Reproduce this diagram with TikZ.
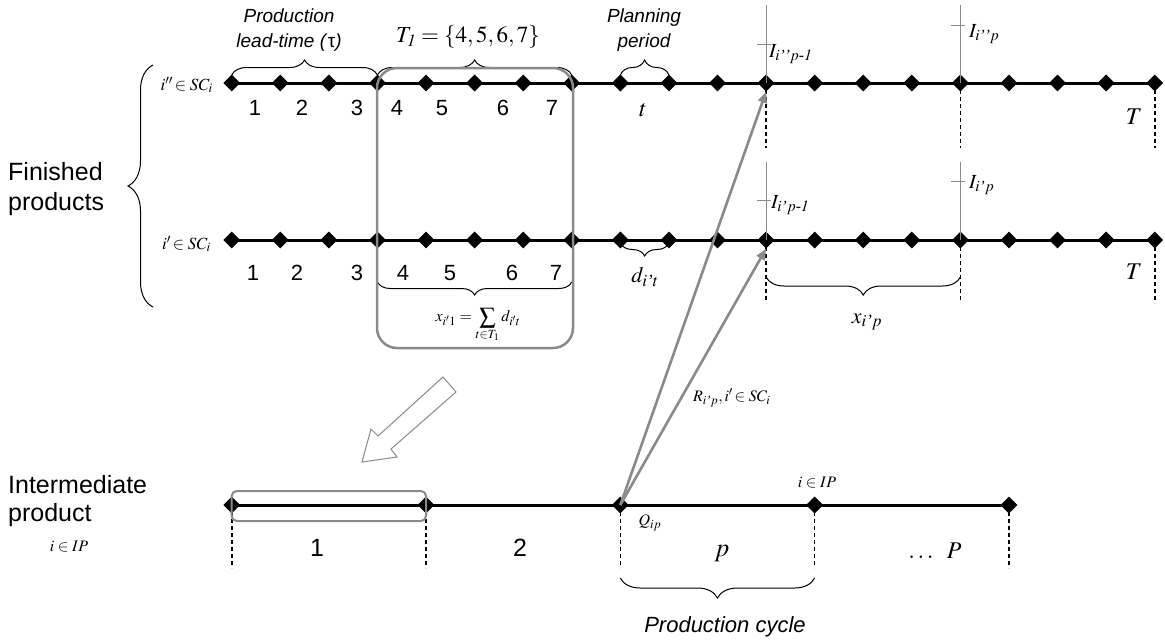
\documentclass[tikz,border=0pt]{standalone}
\usepackage{amsmath}
\usepackage{mathptmx}
\usepackage[no-math]{fontspec}
\setmainfont{Liberation Sans}
\newfontfamily\tmsfont{Liberation Serif}
\usepackage{tikz}
\usetikzlibrary{arrows.meta, shapes.geometric, calc, decorations.pathreplacing}
\definecolor{linkgray}{HTML}{8A8A8A}
%% larger subscripts, as in the equation editor
\DeclareMathSizes{16}{16}{12.5}{10}
\DeclareMathSizes{17}{17}{13}{10}
\DeclareMathSizes{20}{20}{15.5}{12}
\DeclareMathSizes{22}{22}{17}{13}
\DeclareMathSizes{23}{23}{17}{13}
\DeclareMathSizes{24}{24}{18}{14}
\DeclareMathSizes{26}{26}{19}{15}
\newcommand{\ap}{\text{\tmsfont\itshape ’}}
\newcommand{\hy}{\text{\tmsfont\itshape -}}

\tikzset{
  dot/.style={diamond, fill=black, inner sep=0pt, minimum size=17pt},
  timeline/.style={line width=3pt},
  drop/.style={line width=1.6pt, dash pattern=on 4pt off 3pt},
  invline/.style={linkgray, line width=1pt},
  feed/.style={linkgray, line width=2.6pt, -{Triangle[length=11pt,width=9pt]}},
  graybox/.style={linkgray, line width=2.5pt},
  hollow/.style={linkgray, line width=1pt, line join=miter},
  brc/.style 2 args={decorate, line width=1pt,
                     decoration={brace, amplitude=#1, raise=#2}},
  num/.style={font=\fontsize{22}{24}\selectfont, inner sep=0pt},
  lbl/.style={font=\fontsize{25}{30}\selectfont, align=left, inner sep=0pt},
  itl/.style={font=\fontsize{19}{25}\selectfont\itshape, align=center, inner sep=0pt},
  mth/.style={font=\fontsize{22}{24}\selectfont, inner sep=0pt},
  sm/.style={font=\fontsize{16}{18}\selectfont, inner sep=0pt}
}

\begin{document}
\begin{tikzpicture}[x=1pt, y=-1pt]
  \useasboundingbox (0,0) rectangle (1165,641);

  %% Finished products: two period timelines
  \foreach \k in {0,...,19} {
    \node[dot] (fa\k) at ({231.7+48.58*\k}, 83) {};
    \node[dot] (fb\k) at ({231.7+48.58*\k}, 240) {};
  }
  \draw[timeline] (fa0.center) -- (fa19.center);
  \draw[timeline] (fb0.center) -- (fb19.center);

  %% period numbers
  \foreach \n/\x in {1/255, 2/302, 3/357, 4/397, 5/442, 6/503, 7/552}
    \node[num] (da\n) at (\x, 108) {\n};
  \foreach \n/\x in {1/253, 2/297, 3/357, 4/403, 5/450, 6/512, 7/556}
    \node[num] (db\n) at (\x, 273) {\n};

  \node[sm, font=\fontsize{17}{19}\selectfont, anchor=east] (scA) at (213, 85)
    {$i''\!\in SC_i$};
  \node[sm, font=\fontsize{17}{19}\selectfont, anchor=east] (scB) at (211, 244)
    {$i'\!\in SC_i$};
  \node[lbl, anchor=west] (fin) at (8, 189) {Finished\\products};
  \draw[brc={25pt}{0pt}] (153,307) -- (153,65);

  %% braces on the upper line
  \draw[brc={15pt}{8pt}] (fa0.center) -- (fa3.center);
  \draw[brc={15pt}{8pt}] (fa3.center) -- (fa7.center);
  \draw[brc={15pt}{8pt}] (fa8.center) -- (fa9.center);
  \node[itl] (lead) at (289, 30) {Production\\lead-time (\textup{τ})};
  \node[mth, font=\fontsize{23}{25}\selectfont] (Tone) at (468, 37)
    {$T_{\mathit{1}} = \{4,5,6,7\}$};
  \node[itl] (plan) at (644, 30) {Planning\\period};
  \node[mth, font=\fontsize{24}{26}\selectfont] (tt) at (643, 110) {$t$};
  \node[mth, font=\fontsize{24}{26}\selectfont] (Ta) at (1134, 117) {$T$};

  %% braces on the lower line
  \draw[brc={13pt}{3pt}] (fb9.center) -- (fb8.center);
  \draw[brc={13pt}{42pt}] (fb7.center) -- (fb3.center);
  \draw[brc={18pt}{37pt}] (fb15.center) -- (fb11.center);
  \node[mth] (dit) at (645, 277) {$d_{i\ap t}$};
  \node[mth, font=\fontsize{16}{18}\selectfont] (xsum) at (478, 325)
    {$\displaystyle x_{i'1} = \sum_{t\in T_1} d_{i't}$};
  \node[mth] (xip) at (867, 322) {$x_{i\ap p}$};
  \node[mth, font=\fontsize{24}{26}\selectfont] (Tb) at (1134, 272) {$T$};

  %% cycle boundaries
  \foreach \k in {11,15,19} {
    \draw[drop] (fa\k.center) -- ++(0,65);
    \draw[drop] (fb\k.center) -- ++(0,63);
  }

  %% inventory levels
  \foreach \k/\h in {11/39, 15/58} {
    \draw[invline] (fa\k.center) -- ++(0,-78);
    \draw[invline] ($(fa\k)+(-9,-\h)$) -- ++(14,0);
  }
  \foreach \k/\h in {11/40, 15/59} {
    \draw[invline] (fb\k.center) -- ++(0,-78);
    \draw[invline] ($(fb\k)+(-9,-\h)$) -- ++(14,0);
  }
  \node[mth, font=\fontsize{20}{22}\selectfont, anchor=base west] (Ia) at (769, 57)
    {$I_{i\ap\ap p\hy\mathit{1}}$};
  \node[mth, font=\fontsize{20}{22}\selectfont, anchor=base west] (Ib) at (969, 37)
    {$I_{i\ap\ap p}$};
  \node[mth, font=\fontsize{20}{22}\selectfont, anchor=base west] (Ic) at (771, 208)
    {$I_{i\ap p\hy\mathit{1}}$};
  \node[mth, font=\fontsize{20}{22}\selectfont, anchor=base west] (Id) at (969, 188)
    {$I_{i\ap p}$};

  %% aggregation box
  \draw[graybox, rounded corners=20pt] (377,68) rectangle (573,348);

  %% Intermediate product line
  \foreach \j in {0,...,4}
    \node[dot] (ip\j) at ({231.7+194.3*\j}, 505) {};
  \draw[timeline] (ip0.center) -- (ip4.center);
  \foreach \j in {0,...,4}
    \draw[drop] (ip\j.center) -- ++(0,63);
  \draw[graybox, line width=2pt, rounded corners=5pt]
    ($(ip0)+(0,-14)$) rectangle ($(ip1)+(0,16)$);

  \node[lbl, font=\fontsize{25}{28}\selectfont, anchor=west] (inter) at (8, 501)
    {Intermediate\\product};
  \node[sm] (ipA) at (69, 547) {$i\in IP$};
  \node[num, font=\fontsize{25}{27}\selectfont] (c1) at (317, 548) {1};
  \node[num, font=\fontsize{25}{27}\selectfont] (c2) at (520, 548) {2};
  \node[mth, font=\fontsize{26}{28}\selectfont] (cp) at (722, 553) {$p$};
  \node[mth, font=\fontsize{24}{26}\selectfont] (cP) at (935, 551) {$\ldots\;\; P$};
  \node[sm] (Qip) at (650, 523) {$Q_{ip}$};
  \node[sm] (ipB) at (817, 483) {$i\in IP$};
  \draw[brc={20pt}{73pt}] (ip3.center) -- (ip2.center);
  \node[itl, font=\fontsize{22}{25}\selectfont\itshape] (cyc) at (725, 627)
    {Production cycle};

  %% hollow arrow towards the first cycle
  \draw[hollow] (443,377) -- (456,392) -- (391,449) -- (397,457) -- (362,462)
    -- (371,429) -- (378,436) -- cycle;

  %% release of intermediate to finished products
  \draw[feed] (ip2.center) -- (fa11.south);
  \draw[feed] (ip2.center) -- (fb11.south);
  \node[sm, anchor=west] (Rip) at (693, 398)
    {$R_{i\ap p}, i'\!\in SC_i$};
\end{tikzpicture}
\end{document}
